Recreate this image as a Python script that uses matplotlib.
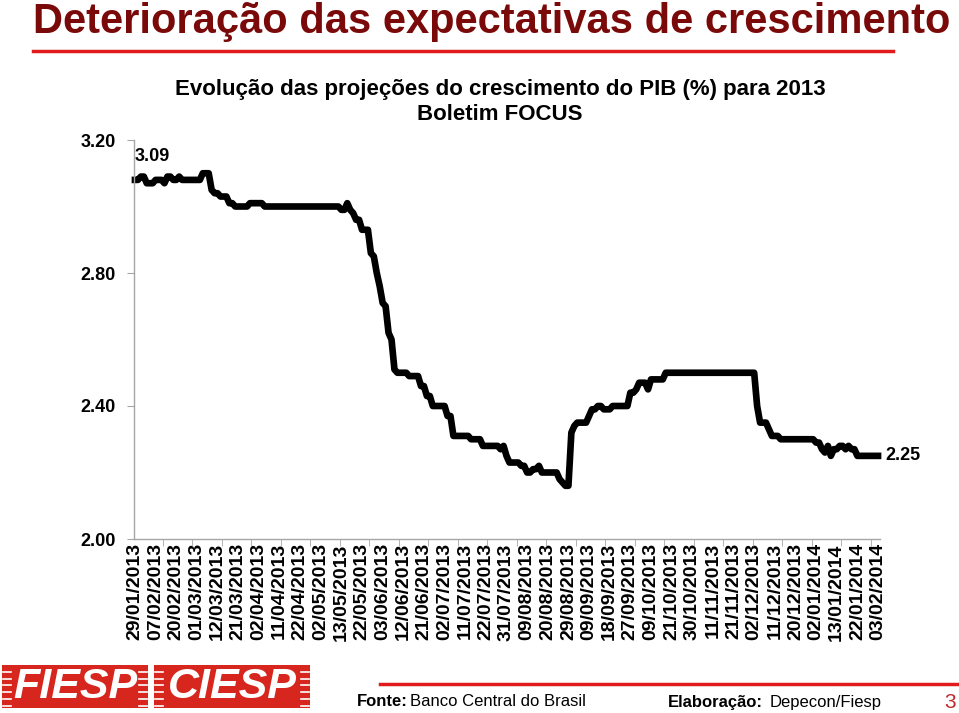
import matplotlib.pyplot as plt
import numpy as np
from matplotlib.patches import Rectangle
from matplotlib.lines import Line2D

plt.rcParams['font.family'] = ['Liberation Sans', 'DejaVu Sans']

# projecao do PIB 2013 (Boletim FOCUS), por dia util: inicio de cada patamar
inicio = [0, 2, 4, 7, 10, 11, 13, 15, 16, 23, 26, 27, 29, 32, 34, 39, 44,
          70, 72, 73, 74, 75, 77, 80, 81, 82, 83, 84, 85, 86, 87, 88, 89,
          93, 97, 99, 101, 106, 108, 114, 118, 124, 125, 126, 127, 131, 133,
          135, 137, 138, 144, 145, 146, 148, 149, 150, 154, 155, 157, 159,
          162, 168, 170, 171, 174, 175, 180, 211, 212, 215, 216, 219, 231,
          233, 234, 235, 236, 237, 239, 241, 242, 243, 245]
projecao = [3.08, 3.09, 3.07, 3.08, 3.07, 3.09, 3.08, 3.09, 3.08, 3.10, 3.05,
            3.04, 3.03, 3.01, 3.00, 3.01, 3.00,
            2.99, 3.01, 2.99, 2.98, 2.96, 2.93, 2.86, 2.85, 2.80, 2.76, 2.71,
            2.70, 2.62, 2.60, 2.51, 2.50,
            2.49, 2.46, 2.43, 2.40, 2.37, 2.31, 2.30, 2.28, 2.27, 2.28, 2.25,
            2.23, 2.22, 2.20,
            2.21, 2.22, 2.20, 2.18, 2.17, 2.16, 2.32, 2.34, 2.35, 2.37, 2.39,
            2.40, 2.39,
            2.40, 2.44, 2.45, 2.47, 2.45, 2.48, 2.50, 2.40, 2.35, 2.33, 2.31,
            2.30, 2.29,
            2.27, 2.26, 2.28, 2.25, 2.27, 2.28, 2.27, 2.28, 2.27, 2.25]
n_dias = 253

datas = ['29/01/2013', '07/02/2013', '20/02/2013', '01/03/2013', '12/03/2013',
         '21/03/2013', '02/04/2013', '11/04/2013', '22/04/2013', '02/05/2013',
         '13/05/2013', '22/05/2013', '03/06/2013', '12/06/2013', '21/06/2013',
         '02/07/2013', '11/07/2013', '22/07/2013', '31/07/2013', '09/08/2013',
         '20/08/2013', '29/08/2013', '09/09/2013', '18/09/2013', '27/09/2013',
         '09/10/2013', '21/10/2013', '30/10/2013', '11/11/2013', '21/11/2013',
         '02/12/2013', '11/12/2013', '20/12/2013', '02/01/2014', '13/01/2014',
         '22/01/2014', '03/02/2014']
passo_rotulo = 7
yticks = [2.00, 2.40, 2.80, 3.20]
valor_inicial = 3.09

duracao = np.diff(inicio + [n_dias])
serie = np.repeat(projecao, duracao)
x = np.arange(n_dias)

W, H = 959, 713
fig = plt.figure(figsize=(W / 100, H / 100), dpi=100)


def fx(px):
    return px / W


def fy(py):
    return 1 - py / H


ax = fig.add_axes([fx(133.5), fy(539), fx(746), 399 / H])
ax.plot(x, serie, color='black', lw=4.8, solid_joinstyle='round', clip_on=False)
ax.set_xlim(-0.5, n_dias - 0.5)
ax.set_ylim(2.0, 3.2)

ax.set_yticks(yticks)
ax.set_yticklabels(['%.2f' % v for v in yticks], fontsize=13, fontweight='bold')
ax.set_xticks(np.arange(len(datas)) * passo_rotulo)
ax.set_xticklabels(datas, rotation=90, fontsize=14, fontweight='bold')
ax.set_xticks(np.arange(9.5, n_dias, 10), minor=True)
ax.tick_params(axis='x', which='major', length=0, pad=3)
ax.tick_params(axis='x', which='minor', length=5, color='#a6a6a6', direction='out')
ax.tick_params(axis='y', length=5, color='#a6a6a6', pad=8)
for s in ['top', 'right']:
    ax.spines[s].set_visible(False)
for s in ['left', 'bottom']:
    ax.spines[s].set_color('#a6a6a6')
    ax.spines[s].set_linewidth(1)

ax.text(0, 3.15, '%.2f' % valor_inicial, fontsize=13, fontweight='bold',
        ha='left', va='center')
ax.text(254.5, serie[-1], '%.2f' % serie[-1], fontsize=13, fontweight='bold',
        ha='left', va='center', clip_on=False)

fig.text(fx(500), fy(90), 'Evolução das projeções do crescimento do PIB (%) para 2013',
         fontsize=16, fontweight='bold', ha='center', va='center')
fig.text(fx(500), fy(114), 'Boletim FOCUS', fontsize=16, fontweight='bold',
         ha='center', va='center')

# cabecalho
fig.text(fx(33), fy(22), 'Deterioração das expectativas de crescimento',
         color='#7a0a0a', fontsize=30, fontweight='bold', ha='left', va='center')
fig.add_artist(Line2D([fx(33), fx(893)], [fy(51), fy(51)], color='#e01b1b', lw=2.5))

# rodape
fig.add_artist(Line2D([fx(380), fx(957)], [fy(684), fy(684)], color='#e01b1b', lw=2.5))
fig.text(fx(357), fy(702), 'Fonte:', fontsize=12, fontweight='bold', va='center')
fig.text(fx(410), fy(702), 'Banco Central do Brasil', fontsize=12, va='center')
fig.text(fx(668), fy(702), 'Elaboração:', fontsize=12, fontweight='bold', va='center')
fig.text(fx(770), fy(702), 'Depecon/Fiesp', fontsize=12, va='center')
fig.text(fx(950), fy(702), '3', fontsize=15, color='#c0282d', ha='center', va='center')

for x0, x1, nome in [(2, 148, 'FIESP'), (154, 310, 'CIESP')]:
    fig.add_artist(Rectangle((fx(x0), fy(708)), fx(x1 - x0), 43 / H,
                             facecolor='#d7261e', edgecolor='none'))
    for k in range(6):
        yy = fy(672 + k * 6.7)
        fig.add_artist(Line2D([fx(x0 + 1), fx(x0 + 9)], [yy, yy], color='white', lw=1.2))
        fig.add_artist(Line2D([fx(x1 - 9), fx(x1 - 1)], [yy, yy], color='white', lw=1.2))
    fig.text(fx((x0 + x1) / 2), fy(687), nome, fontsize=31, fontweight='bold',
             fontstyle='italic', color='white', ha='center', va='center')

fig.savefig('out.png', dpi=100)
